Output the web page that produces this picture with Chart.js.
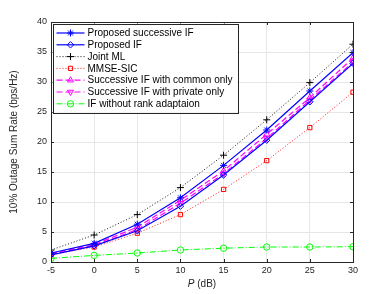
<!DOCTYPE html>
<html>
<head>
<meta charset="utf-8">
<script src="https://cdn.jsdelivr.net/npm/chart.js@4/dist/chart.umd.min.js"></script>
<style>
  html, body { margin: 0; padding: 0; background: #fff; }
  #wrap { width: 390px; height: 294px; }
</style>
</head>
<body>
<div id="wrap"><canvas id="chart" width="390" height="294"></canvas></div>
<script>
// x values (P in dB)
const powerDb = [-5, 0, 5, 10, 15, 20, 25, 30];

// 10% outage sum rate per scheme
const successiveIF = [1.5, 3.1, 6.3, 10.7, 16.1, 22.0, 28.5, 34.9];
const proposedIF   = [1.2, 2.7, 5.2, 9.3, 14.5, 20.3, 26.7, 33.1];
const jointML      = [2.0, 4.5, 7.9, 12.4, 17.8, 23.7, 29.9, 36.3];
const mmseSIC      = [1.2, 2.5, 4.8, 7.9, 12.1, 16.9, 22.4, 28.3];
const commonOnly   = [1.4, 2.9, 5.8, 10.3, 15.2, 21.3, 27.4, 34.0];
const privateOnly  = [1.3, 2.7, 5.4, 9.8, 14.7, 20.6, 27.0, 33.3];
const noRankAdapt  = [0.6, 1.1, 1.5, 2.0, 2.3, 2.5, 2.5, 2.55];

const labels = [
    'Proposed successive IF',
    'Proposed IF',
    'Joint ML',
    'MMSE-SIC',
    'Successive IF with common only',
    'Successive IF with private only',
    'IF without rank adaptaion'
];

const yTicks = [0, 5, 10, 15, 20, 25, 30, 35, 40];
const xTicks = [-5, 0, 5, 10, 15, 20, 25, 30];

const FONT = 'Liberation Sans, Arial, sans-serif';
const AXIS = '#262626';
const CLEAR = 'rgba(0,0,0,0)';

function pts(vals) {
    return vals.map((v, i) => ({ x: powerDb[i], y: v }));
}

const styles = [
    { color: '#0000ff', dash: [], width: 1.2, point: 'star', radius: 3.5, rot: 0 },
    { color: '#0000ff', dash: [], width: 1.2, point: 'rectRot', radius: 3.2, rot: 0 },
    { color: '#000000', dash: [1, 2], width: 0.9, point: 'cross', radius: 3.5, rot: 0 },
    { color: '#ff0000', dash: [1, 2], width: 0.9, point: 'rect', radius: 3, rot: 0 },
    { color: '#ff00ff', dash: [6, 3], width: 1.2, point: 'triangle', radius: 3.5, rot: 0 },
    { color: '#ff00ff', dash: [6, 3], width: 1.2, point: 'triangle', radius: 3.5, rot: 180 },
    { color: '#00ff00', dash: [6, 2, 1, 2], width: 1.0, point: 'circle', radius: 3.2, rot: 0 }
];
const series = [successiveIF, proposedIF, jointML, mmseSIC, commonOnly, privateOnly, noRankAdapt];

const datasets = series.map((vals, i) => ({
    label: labels[i],
    data: pts(vals),
    borderColor: styles[i].color,
    backgroundColor: CLEAR,
    borderWidth: styles[i].width,
    borderDash: styles[i].dash,
    pointStyle: styles[i].point,
    pointRadius: styles[i].radius,
    pointRotation: styles[i].rot,
    pointBorderColor: styles[i].color,
    pointBackgroundColor: CLEAR,
    pointBorderWidth: 1,
    tension: 0,
    fill: false
}));

// box, inward ticks, axis titles (italic P), legend inside the plot
const matlabLook = {
    id: 'matlabLook',
    afterDraw(chart) {
        const ctx = chart.ctx;
        const a = chart.chartArea;
        const xs = chart.scales.x, ys = chart.scales.y;
        ctx.save();
        ctx.strokeStyle = AXIS;
        ctx.lineWidth = 1;
        ctx.beginPath();
        xTicks.forEach(t => {
            const px = Math.round(xs.getPixelForValue(t)) + 0.5;
            ctx.moveTo(px, a.bottom); ctx.lineTo(px, a.bottom - 3);
            ctx.moveTo(px, a.top); ctx.lineTo(px, a.top + 3);
        });
        yTicks.forEach(t => {
            const py = Math.round(ys.getPixelForValue(t)) + 0.5;
            ctx.moveTo(a.left, py); ctx.lineTo(a.left + 3, py);
            ctx.moveTo(a.right, py); ctx.lineTo(a.right - 3, py);
        });
        ctx.stroke();
        ctx.strokeRect(Math.round(a.left) + 0.5, Math.round(a.top) + 0.5,
            Math.round(a.right - a.left), Math.round(a.bottom - a.top));

        // x axis title
        ctx.fillStyle = AXIS;
        ctx.textBaseline = 'alphabetic';
        ctx.font = 'italic 10px ' + FONT;
        const rest = ' (dB)';
        const wP = ctx.measureText('P').width;
        ctx.font = '10px ' + FONT;
        const wR = ctx.measureText(rest).width;
        const cx = (a.left + a.right) / 2;
        const sx = cx - (wP + wR) / 2;
        ctx.font = 'italic 10px ' + FONT;
        ctx.fillText('P', sx, 287);
        ctx.font = '10px ' + FONT;
        ctx.fillText(rest, sx + wP, 287);

        // y axis title
        ctx.save();
        ctx.translate(17, (a.top + a.bottom) / 2);
        ctx.rotate(-Math.PI / 2);
        ctx.textAlign = 'center';
        ctx.fillText('10% Outage Sum Rate (bps/Hz)', 0, 0);
        ctx.restore();

        // legend
        const lx = a.left + 1.5, ly = a.top + 1.5, lw = 185, lh = 89;
        ctx.fillStyle = '#ffffff';
        ctx.fillRect(lx, ly, lw, lh);
        ctx.strokeStyle = AXIS;
        ctx.lineWidth = 1;
        ctx.strokeRect(Math.round(lx) + 0.5, Math.round(ly) + 0.5, lw, lh);
        ctx.font = '10px ' + FONT;
        ctx.textBaseline = 'middle';
        ctx.textAlign = 'left';
        labels.forEach((lab, i) => {
            const st = styles[i];
            const y = ly + 9.5 + i * 11.8;
            ctx.strokeStyle = st.color;
            ctx.lineWidth = st.width;
            ctx.setLineDash(st.dash);
            ctx.beginPath();
            ctx.moveTo(lx + 4, y); ctx.lineTo(lx + 32, y);
            ctx.stroke();
            ctx.setLineDash([]);
            ctx.lineWidth = 1;
            ctx.fillStyle = CLEAR;
            Chart.helpers.drawPoint(ctx, {
                pointStyle: st.point, radius: st.radius, rotation: st.rot, borderWidth: 1
            }, lx + 18, y);
            ctx.fillStyle = '#000000';
            ctx.fillText(lab, lx + 35, y + 0.5);
        });
        ctx.restore();
    }
};

new Chart(document.getElementById('chart').getContext('2d'), {
    type: 'line',
    data: { datasets: datasets },
    plugins: [matlabLook],
    options: {
        responsive: false,
        animation: false,
        layout: { padding: { top: 22, right: 37, left: 0, bottom: 0 } },
        plugins: { legend: { display: false }, tooltip: { enabled: false } },
        scales: {
            x: {
                type: 'linear',
                min: -5, max: 30,
                afterBuildTicks: s => { s.ticks = xTicks.map(v => ({ value: v })); },
                afterFit: s => { s.height = 32; },
                ticks: { color: AXIS, font: { size: 9, family: FONT }, padding: 3, maxRotation: 0 },
                grid: { color: '#e6e6e6', drawTicks: false, lineWidth: 1 },
                border: { display: false }
            },
            y: {
                type: 'linear',
                min: 0, max: 40,
                afterBuildTicks: s => { s.ticks = yTicks.map(v => ({ value: v })); },
                afterFit: s => { s.width = 51; },
                ticks: { color: AXIS, font: { size: 9, family: FONT }, padding: 4 },
                grid: { color: '#e6e6e6', drawTicks: false, lineWidth: 1 },
                border: { display: false }
            }
        }
    }
});
</script>
</body>
</html>
